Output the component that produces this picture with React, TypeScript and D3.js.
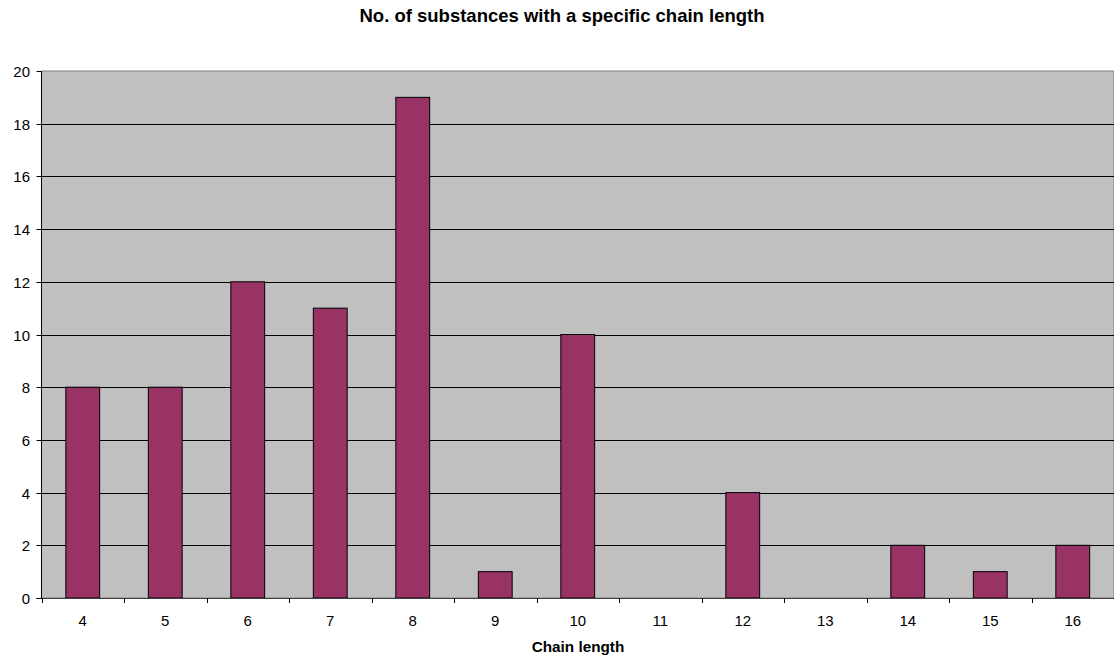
import React, { useEffect, useRef } from "react";
import * as d3 from "d3";

const categories = ["4", "5", "6", "7", "8", "9", "10", "11", "12", "13", "14", "15", "16"];
const counts = [8, 8, 12, 11, 19, 1, 10, 0, 4, 0, 2, 1, 2];
const yTicks = [0, 2, 4, 6, 8, 10, 12, 14, 16, 18, 20];

const W = 1114;
const H = 659;
const M = { left: 41.5, right: 1114, top: 71, bottom: 598 };

export default function App() {
  const ref = useRef<SVGSVGElement>(null);
  useEffect(() => {
    const svg = d3.select(ref.current);
    svg.selectAll("*").remove();
    const font = "'Liberation Sans', Arial, sans-serif";
    const x = d3.scaleBand().domain(categories).range([M.left, M.right]).paddingInner(0).paddingOuter(0);
    const y = d3.scaleLinear().domain([0, 20]).range([M.bottom, M.top]);

    svg.append("rect").attr("x", 0).attr("y", 0).attr("width", W).attr("height", H).attr("fill", "#fff");

    svg.append("rect")
      .attr("x", M.left).attr("y", M.top)
      .attr("width", M.right - M.left).attr("height", M.bottom - M.top)
      .attr("fill", "#c0c0c0").attr("stroke", "#808080").attr("stroke-width", 1);

    // gridlines
    svg.append("g").selectAll("line").data(yTicks.filter(t => t > 0 && t < 20)).join("line")
      .attr("x1", M.left).attr("x2", M.right)
      .attr("y1", d => Math.round(y(d)) + 0.5).attr("y2", d => Math.round(y(d)) + 0.5)
      .attr("stroke", "#000").attr("stroke-width", 1);

    // bars
    const bw = x.bandwidth() * 0.41;
    svg.append("g").selectAll("rect").data(counts.map((v, i) => ({ c: categories[i], v })).filter(d => d.v > 0)).join("rect")
      .attr("x", d => (x(d.c) as number) + x.bandwidth() / 2 - bw / 2)
      .attr("y", d => y(d.v))
      .attr("width", bw)
      .attr("height", d => y(0) - y(d.v))
      .attr("fill", "#993366").attr("stroke", "#000").attr("stroke-width", 1);

    // axes lines
    svg.append("line").attr("x1", M.left).attr("x2", M.left).attr("y1", M.top).attr("y2", M.bottom)
      .attr("stroke", "#000");
    svg.append("line").attr("x1", M.left - 5).attr("x2", M.right).attr("y1", M.bottom + 0.5).attr("y2", M.bottom + 0.5)
      .attr("stroke", "#404040");

    // y ticks
    const yg = svg.append("g");
    yTicks.forEach(t => {
      const yy = Math.round(y(t)) + 0.5;
      yg.append("line").attr("x1", M.left - 5).attr("x2", M.left).attr("y1", yy).attr("y2", yy).attr("stroke", "#000");
      yg.append("text").attr("x", 30).attr("y", yy).attr("dy", "0.35em").attr("text-anchor", "end")
        .attr("font-family", font).attr("font-size", 15).attr("fill", "#000").text(String(t));
    });

    // x ticks
    const xg = svg.append("g");
    categories.forEach((c) => {
      const xx = Math.round(x(c) as number) + 0.5;
      xg.append("line").attr("x1", xx).attr("x2", xx).attr("y1", M.bottom).attr("y2", M.bottom + 5).attr("stroke", "#000");
      xg.append("text").attr("x", (x(c) as number) + x.bandwidth() / 2).attr("y", 626).attr("text-anchor", "middle")
        .attr("font-family", font).attr("font-size", 15).attr("fill", "#000").text(c);
    });

    svg.append("text").attr("x", 562).attr("y", 22).attr("text-anchor", "middle")
      .attr("font-family", font).attr("font-size", 18.5).attr("font-weight", "bold").text("No. of substances with a specific chain length");
    svg.append("text").attr("x", 578).attr("y", 652).attr("text-anchor", "middle")
      .attr("font-family", font).attr("font-size", 15.3).attr("font-weight", "bold").text("Chain length");
  }, []);
  return (
    <svg ref={ref} width={W} height={H} style={{ position: "absolute", left: 0, top: 0, display: "block" }} />
  );
}
